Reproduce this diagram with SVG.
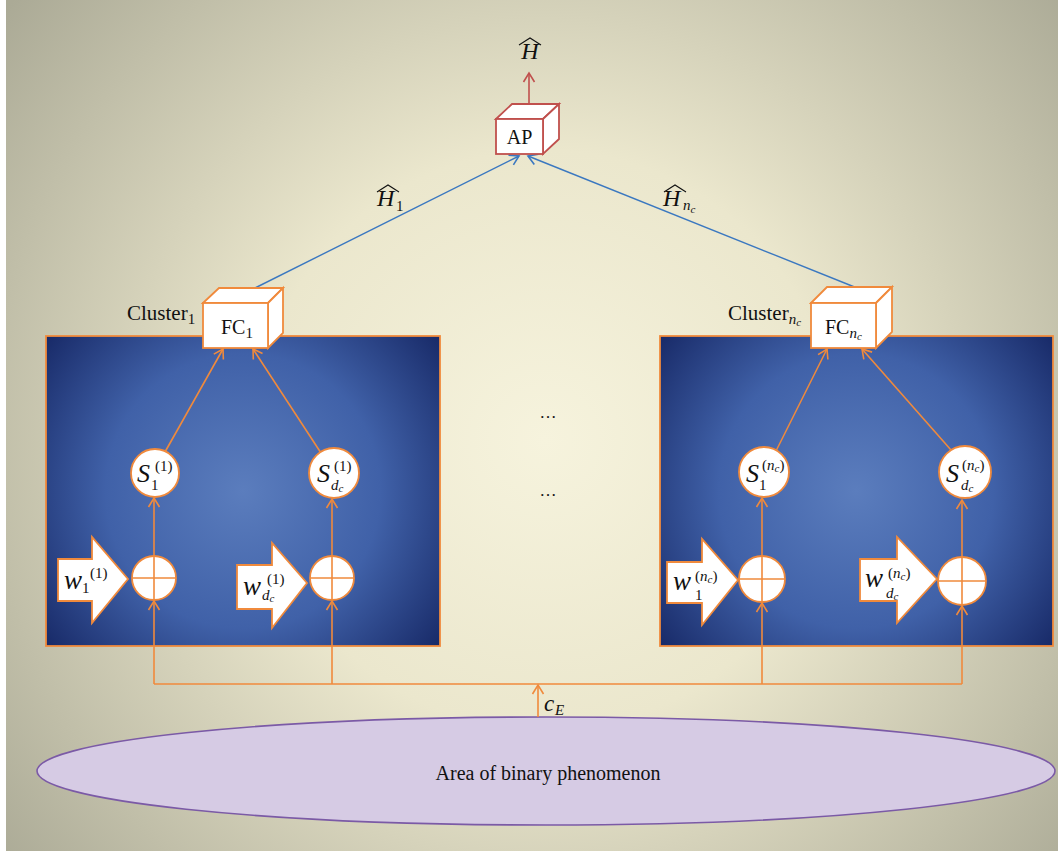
<svg xmlns="http://www.w3.org/2000/svg" width="1058" height="851" viewBox="0 0 1058 851">
<defs>
<radialGradient id="bg" gradientUnits="userSpaceOnUse" cx="545" cy="440" r="690">
<stop offset="0" stop-color="#f6f3dd"/>
<stop offset="0.42" stop-color="#ebe7cd"/>
<stop offset="1" stop-color="#abaa96"/>
</radialGradient>
<radialGradient id="pl" gradientUnits="userSpaceOnUse" cx="243" cy="491" r="250">
<stop offset="0" stop-color="#5b7dbd"/>
<stop offset="0.55" stop-color="#4061a8"/>
<stop offset="1" stop-color="#182a68"/>
</radialGradient>
<radialGradient id="pr" gradientUnits="userSpaceOnUse" cx="856" cy="491" r="250">
<stop offset="0" stop-color="#5b7dbd"/>
<stop offset="0.55" stop-color="#4061a8"/>
<stop offset="1" stop-color="#182a68"/>
</radialGradient>
<marker id="ao" markerUnits="userSpaceOnUse" markerWidth="14" markerHeight="14" refX="10" refY="6" orient="auto" viewBox="0 0 14 12">
<path d="M1,0.5 L10,6 L1,11.5" fill="none" stroke="#f08a3c" stroke-width="1.6"/>
</marker>
<marker id="ab" markerUnits="userSpaceOnUse" markerWidth="14" markerHeight="14" refX="10" refY="6" orient="auto" viewBox="0 0 14 12">
<path d="M1,0.5 L10,6 L1,11.5" fill="none" stroke="#3b78c0" stroke-width="1.6"/>
</marker>
<marker id="ar" markerUnits="userSpaceOnUse" markerWidth="14" markerHeight="14" refX="10" refY="6" orient="auto" viewBox="0 0 14 12">
<path d="M1,0.5 L10,6 L1,11.5" fill="none" stroke="#c0504d" stroke-width="1.6"/>
</marker>
</defs>
<style>
.t{font-family:"Liberation Serif","DejaVu Serif",serif;fill:#111}
.m{font-family:"Liberation Serif","DejaVu Serif",serif;font-style:italic;fill:#111}
.o{stroke:#f08a3c;stroke-width:1.6;fill:none}
.ow{stroke:#f08a3c;stroke-width:1.8;fill:#fff}
.rw{stroke:#c0504d;stroke-width:1.8;fill:#fff}
.bl{stroke:#3b78c0;stroke-width:1.4;fill:none}
.hat{stroke:#111;stroke-width:1.1;fill:none}
</style>
<rect x="0" y="0" width="1058" height="851" fill="#ffffff"/>
<rect x="6" y="0" width="1052" height="851" fill="url(#bg)"/>

<g id="panel1"><rect x="46" y="336" width="394" height="310" fill="url(#pl)" stroke="#f08a3c" stroke-width="1.8"/></g>
<g id="panel2"><rect x="660" y="336" width="393" height="310" fill="url(#pr)" stroke="#f08a3c" stroke-width="1.8"/></g>

<g id="area">
<ellipse cx="546" cy="771" rx="509" ry="54" fill="#d6cbe4" stroke="#7b5aa6" stroke-width="1.6"/>
<text class="t" x="548" y="780" font-size="20" text-anchor="middle">Area of binary phenomenon</text>
</g>

<g id="connectors">
<line class="o" x1="154" y1="684" x2="962" y2="684"/>
<line class="o" x1="538" y1="717" x2="538" y2="685" marker-end="url(#ao)"/>
<line class="o" x1="154" y1="684" x2="154" y2="601" marker-end="url(#ao)"/>
<line class="o" x1="332" y1="684" x2="332" y2="601" marker-end="url(#ao)"/>
<line class="o" x1="762" y1="684" x2="762" y2="603" marker-end="url(#ao)"/>
<line class="o" x1="962" y1="684" x2="962" y2="606" marker-end="url(#ao)"/>
<line class="o" x1="154" y1="556" x2="154" y2="498" marker-end="url(#ao)"/>
<line class="o" x1="332" y1="556" x2="332" y2="499" marker-end="url(#ao)"/>
<line class="o" x1="762" y1="556" x2="762" y2="498" marker-end="url(#ao)"/>
<line class="o" x1="962" y1="557" x2="962" y2="500" marker-end="url(#ao)"/>
<line class="o" x1="165" y1="452" x2="223" y2="349" marker-end="url(#ao)"/>
<line class="o" x1="321" y1="453" x2="253" y2="349" marker-end="url(#ao)"/>
<line class="o" x1="776" y1="451" x2="827" y2="349" marker-end="url(#ao)"/>
<line class="o" x1="951" y1="450" x2="862" y2="349" marker-end="url(#ao)"/>
<line class="bl" x1="255" y1="288" x2="519" y2="156" marker-end="url(#ab)"/>
<line class="bl" x1="857" y1="288" x2="528" y2="156" marker-end="url(#ab)"/>
<line x1="529" y1="104" x2="529" y2="73" stroke="#c0504d" stroke-width="1.6" marker-end="url(#ar)"/>
</g>

<g id="labels">
<text class="m" x="530" y="59" font-size="24" text-anchor="middle">H</text>
<polyline class="hat" points="519,45 530,38 541,45"/>
<text class="m" x="377" y="206" font-size="24">H</text>
<text class="t" x="396" y="211" font-size="15">1</text>
<polyline class="hat" points="377,192 388,185 399,192"/>
<text class="m" x="663" y="206" font-size="24">H</text>
<text class="m" x="683" y="210" font-size="15">n<tspan font-size="11" dy="3">c</tspan></text>
<polyline class="hat" points="664,192 675,185 686,192"/>
<text class="m" x="544" y="711" font-size="23">c</text>
<text class="m" x="555" y="715" font-size="15">E</text>
<text class="t" x="548" y="418" font-size="17" text-anchor="middle">…</text>
<text class="t" x="548" y="496" font-size="17" text-anchor="middle">…</text>
</g>

<g id="AP">
<polygon class="rw" points="496,119 512,104 559,104 543,119"/>
<polygon class="rw" points="543,119 559,104 559,139 543,154"/>
<rect class="rw" x="496" y="119" width="47" height="35"/>
<text class="t" x="519.5" y="144" font-size="20" text-anchor="middle">AP</text>
</g>

<g id="FC1">
<text class="t" x="127" y="320" font-size="21">Cluster<tspan font-size="15" dy="4">1</tspan></text>
<polygon class="ow" points="203,303 219,288 283,288 268,303"/>
<polygon class="ow" points="268,303 283,288 283,333 268,348"/>
<rect class="ow" x="203" y="303" width="65" height="45"/>
<text class="t" x="221" y="334" font-size="20">FC<tspan font-size="15" dy="4">1</tspan></text>
</g>

<g id="FCnc">
<text class="t" x="728" y="320" font-size="21">Cluster<tspan class="m" font-size="15" dy="4">n</tspan><tspan class="m" font-size="11" dy="2">c</tspan></text>
<polygon class="ow" points="811,303 827,287 892,287 876,303"/>
<polygon class="ow" points="876,303 892,287 892,332 876,348"/>
<rect class="ow" x="811" y="303" width="65" height="45"/>
<text class="t" x="825" y="334" font-size="20">FC<tspan class="m" font-size="15" dy="4">n</tspan><tspan class="m" font-size="11" dy="2">c</tspan></text>
</g>

<g id="S1_1">
<circle class="ow" cx="155" cy="473" r="24"/>
<text class="m" x="137" y="482" font-size="26">S</text>
<text class="t" x="155" y="471" font-size="15">(1)</text>
<text class="t" x="151" y="490" font-size="15">1</text>
</g>
<g id="Sdc_1">
<circle class="ow" cx="334" cy="473" r="25"/>
<text class="m" x="317" y="482" font-size="26">S</text>
<text class="t" x="334" y="471" font-size="15">(1)</text>
<text class="m" x="331" y="490" font-size="15">d<tspan font-size="11" dy="2">c</tspan></text>
</g>
<g id="S1_nc">
<circle class="ow" cx="764" cy="472" r="25"/>
<text class="m" x="746" y="482" font-size="26">S</text>
<text class="t" x="762" y="470" font-size="15">(<tspan class="m">n</tspan><tspan class="m" font-size="11" dy="2">c</tspan><tspan dy="-2">)</tspan></text>
<text class="t" x="759" y="490" font-size="15">1</text>
</g>
<g id="Sdc_nc">
<circle class="ow" cx="965" cy="472" r="26"/>
<text class="m" x="946" y="482" font-size="26">S</text>
<text class="t" x="962" y="470" font-size="15">(<tspan class="m">n</tspan><tspan class="m" font-size="11" dy="2">c</tspan><tspan dy="-2">)</tspan></text>
<text class="m" x="961" y="490" font-size="15">d<tspan font-size="11" dy="2">c</tspan></text>
</g>

<g id="sum1">
<circle class="ow" cx="154" cy="578" r="22"/>
<path class="o" d="M132,578 H176 M154,556 V600"/>
</g>
<g id="sum2">
<circle class="ow" cx="332" cy="578" r="22"/>
<path class="o" d="M310,578 H354 M332,556 V600"/>
</g>
<g id="sum3">
<circle class="ow" cx="762" cy="579" r="23"/>
<path class="o" d="M739,579 H785 M762,556 V602"/>
</g>
<g id="sum4">
<circle class="ow" cx="962" cy="581" r="24"/>
<path class="o" d="M938,581 H986 M962,557 V605"/>
</g>

<g id="w1_1">
<polygon class="ow" points="58,559 92,559 92,537 128,579 92,623 92,601 58,601"/>
<text class="m" x="64" y="589" font-size="27">w</text>
<text class="t" x="82" y="593" font-size="15">1</text>
<text class="t" x="90" y="578" font-size="15">(1)</text>
</g>
<g id="wdc_1">
<polygon class="ow" points="237,565 272,565 272,543 307,583 272,628 272,609 237,609"/>
<text class="m" x="243" y="595" font-size="27">w</text>
<text class="t" x="267" y="584" font-size="15">(1)</text>
<text class="m" x="262" y="600" font-size="15">d<tspan font-size="11" dy="2">c</tspan></text>
</g>
<g id="w1_nc">
<polygon class="ow" points="667,562 702,562 702,539 738,580 702,625 702,603 667,603"/>
<text class="m" x="673" y="590" font-size="27">w</text>
<text class="t" x="695" y="581" font-size="15">(<tspan class="m">n</tspan><tspan class="m" font-size="11" dy="2">c</tspan><tspan dy="-2">)</tspan></text>
<text class="t" x="695" y="600" font-size="15">1</text>
</g>
<g id="wdc_nc">
<polygon class="ow" points="860,559 897,559 897,537 937,579 897,623 897,601 860,601"/>
<text class="m" x="865" y="587" font-size="27">w</text>
<text class="t" x="888" y="578" font-size="15">(<tspan class="m">n</tspan><tspan class="m" font-size="11" dy="2">c</tspan><tspan dy="-2">)</tspan></text>
<text class="m" x="886" y="598" font-size="15">d<tspan font-size="11" dy="2">c</tspan></text>
</g>
</svg>
